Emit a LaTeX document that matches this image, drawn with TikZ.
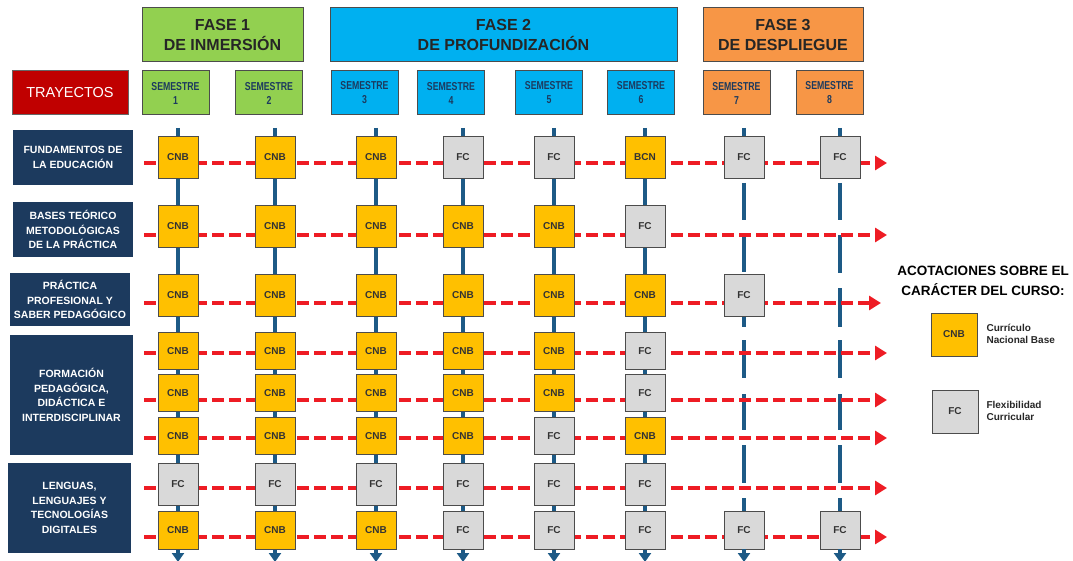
\documentclass[tikz,border=0pt]{standalone}
\usepackage{fontspec}
\setmainfont{Liberation Sans}
\newfontfamily\narrowfont[FakeStretch=0.76]{Liberation Sans}
\usetikzlibrary{arrows.meta}
\definecolor{faseverde}{HTML}{92D050}
\definecolor{faseazul}{HTML}{00B0F0}
\definecolor{fasenaranja}{HTML}{F79646}
\definecolor{rojotray}{HTML}{C00000}
\definecolor{marino}{HTML}{1C3A5E}
\definecolor{oro}{HTML}{FFC000}
\definecolor{grisfc}{HTML}{D9D9D9}
\definecolor{azullinea}{HTML}{1D5A86}
\definecolor{rojolinea}{HTML}{EE1C24}
\begin{document}
\begin{tikzpicture}[x=1pt,y=-1pt,
phase node/.style={draw=black!70,line width=1pt,minimum height=54pt,inner sep=0pt,align=center,text=black!85,font=\bfseries\fontsize{16}{20}\selectfont},
sem node/.style={draw=black!70,line width=1pt,minimum width=67pt,minimum height=44pt,inner sep=0pt,align=center,text=marino,font=\narrowfont\bfseries\fontsize{11.5}{14}\selectfont},
track node/.style={fill=marino,text=white,minimum width=120pt,inner sep=0pt,align=center,font=\bfseries\fontsize{10.5}{14.5}\selectfont},
course/.style={draw=black!70,fill=#1,line width=0.9pt,minimum width=40pt,minimum height=42pt,inner sep=0pt,text=black!80,font=\bfseries\fontsize{10}{11}\selectfont},
course low/.style={course=#1,minimum height=37pt},
row line/.style={draw=rojolinea,line width=4.5pt,dash pattern=on 12pt off 5pt,-{Triangle[length=12pt,width=14pt]}},
col line/.style={draw=azullinea,line width=4pt}]
\useasboundingbox (0,0) rectangle (1073,561);
% fases y semestres
\node[phase node,fill=faseverde,minimum width=161pt] (fase1) at (222.5,35) {FASE 1\\DE INMERSIÓN};
\node[phase node,fill=faseazul,minimum width=347pt] (fase2) at (503.5,35) {FASE 2\\DE PROFUNDIZACIÓN};
\node[phase node,fill=fasenaranja,minimum width=160pt] (fase3) at (783,35) {FASE 3\\DE DESPLIEGUE};
\node[fill=rojotray,draw=black!60,line width=1pt,minimum width=116pt,minimum height=44pt,text=white,font=\fontsize{14.5}{16}\selectfont] (tray) at (70,93) {TRAYECTOS};
\foreach \n/\x/\f in {1/175.5/faseverde,2/269/faseverde,3/364.5/faseazul,4/451/faseazul,5/549/faseazul,6/641/faseazul,7/736.5/fasenaranja,8/829.5/fasenaranja}
  \node[sem node,fill=\f] (sem\n) at (\x,93) {SEMESTRE\\\n};
% trayectos
\node[track node,minimum height=55pt] (tr1) at (73,157.5) {FUNDAMENTOS DE\\LA EDUCACIÓN};
\node[track node,minimum height=55pt] (tr2) at (73,229.5) {BASES TEÓRICO\\METODOLÓGICAS\\DE LA PRÁCTICA};
\node[track node,minimum height=53pt] (tr3) at (70,299.5) {PRÁCTICA\\PROFESIONAL Y\\SABER PEDAGÓGICO};
\node[track node,minimum width=123pt,minimum height=120pt] (tr4) at (71.5,395) {FORMACIÓN\\PEDAGÓGICA,\\DIDÁCTICA E\\INTERDISCIPLINAR};
\node[track node,minimum width=123pt,minimum height=90pt] (tr5) at (69.5,508) {LENGUAS,\\LENGUAJES Y\\TECNOLOGÍAS\\DIGITALES};
% lineas de semestre
\foreach \c/\x in {1/178,2/275,3/376,4/463,5/554,6/645} {
  \coordinate (vt\c) at (\x,128);
  \coordinate (vb\c) at (\x,562);
  \draw[col line,-{Triangle[length=9pt,width=12pt]}] (vt\c) -- (vb\c);
}
\foreach \a/\b [count=\i] in {128/136,183/220,235/272,315/327,340/378,394/430,445/483,498/512} {
  \coordinate (s7a\i) at (744,\a); \coordinate (s7b\i) at (744,\b);
  \draw[col line] (s7a\i) -- (s7b\i);
}
\foreach \a/\b [count=\i] in {128/136,183/220,235/273,288/327,340/378,394/430,445/483,498/512} {
  \coordinate (s8a\i) at (840,\a); \coordinate (s8b\i) at (840,\b);
  \draw[col line] (s8a\i) -- (s8b\i);
}
\coordinate (vb7) at (744,562);
\coordinate (vb8) at (840,562);
% lineas de trayecto
\foreach \r/\y/\e in {1/163/887,2/235/887,3/303/881,4/353/887,5/400/887,6/438/887,7/488/887,8/537/887} {
  \coordinate (rs\r) at (144,\y);
  \coordinate (re\r) at (\e,\y);
  \draw[row line] (rs\r) -- (re\r);
}
% cursos
\foreach \c/\x/\f/\t in {1/178/oro/CNB,2/275/oro/CNB,3/376/oro/CNB,4/463/grisfc/FC,5/554/grisfc/FC,6/645/oro/BCN,7/744/grisfc/FC,8/840/grisfc/FC}
  \node[course=\f] (b1-\c) at (\x,157) {\t};%1
\foreach \c/\x/\f/\t in {1/178/oro/CNB,2/275/oro/CNB,3/376/oro/CNB,4/463/oro/CNB,5/554/oro/CNB,6/645/grisfc/FC}
  \node[course=\f] (b2-\c) at (\x,226) {\t};%2
\foreach \c/\x/\f/\t in {1/178/oro/CNB,2/275/oro/CNB,3/376/oro/CNB,4/463/oro/CNB,5/554/oro/CNB,6/645/oro/CNB,7/744/grisfc/FC}
  \node[course=\f] (b3-\c) at (\x,295) {\t};%3
\foreach \c/\x/\f/\t in {1/178/oro/CNB,2/275/oro/CNB,3/376/oro/CNB,4/463/oro/CNB,5/554/oro/CNB,6/645/grisfc/FC}
  \node[course low=\f] (b4-\c) at (\x,351) {\t};%4
\foreach \c/\x/\f/\t in {1/178/oro/CNB,2/275/oro/CNB,3/376/oro/CNB,4/463/oro/CNB,5/554/oro/CNB,6/645/grisfc/FC}
  \node[course low=\f] (b5-\c) at (\x,393) {\t};%5
\foreach \c/\x/\f/\t in {1/178/oro/CNB,2/275/oro/CNB,3/376/oro/CNB,4/463/oro/CNB,5/554/grisfc/FC,6/645/oro/CNB}
  \node[course low=\f] (b6-\c) at (\x,436) {\t};%6
\foreach \c/\x/\f/\t in {1/178/grisfc/FC,2/275/grisfc/FC,3/376/grisfc/FC,4/463/grisfc/FC,5/554/grisfc/FC,6/645/grisfc/FC}
  \node[course=\f] (b7-\c) at (\x,484) {\t};%7
\foreach \c/\x/\f/\t in {1/178/oro/CNB,2/275/oro/CNB,3/376/oro/CNB,4/463/grisfc/FC,5/554/grisfc/FC,6/645/grisfc/FC,7/744/grisfc/FC,8/840/grisfc/FC}
  \node[course=\f,minimum height=38pt] (b8-\c) at (\x,530) {\t};%8
\draw[col line,-{Triangle[length=9pt,width=12pt]}] (b8-7) -- (vb7);
\draw[col line,-{Triangle[length=9pt,width=12pt]}] (b8-8) -- (vb8);
% acotaciones
\node[align=center,font=\bfseries\fontsize{13.5}{20}\selectfont] (acot) at (983,281) {ACOTACIONES SOBRE EL\\CARÁCTER DEL CURSO:};
\node[course=oro,minimum width=46pt,minimum height=43pt] (leg1) at (954,334.5) {CNB};
\node[anchor=west,align=left,text=black!85,font=\bfseries\fontsize{10}{12.5}\selectfont] (leg1t) at (983,334) {Currículo\\Nacional Base};
\node[course=grisfc,minimum width=46pt,minimum height=43pt] (leg2) at (955,411.5) {FC};
\node[anchor=west,align=left,text=black!85,font=\bfseries\fontsize{10}{12.5}\selectfont] (leg2t) at (983,411) {Flexibilidad\\Curricular};
\end{tikzpicture}
\end{document}
